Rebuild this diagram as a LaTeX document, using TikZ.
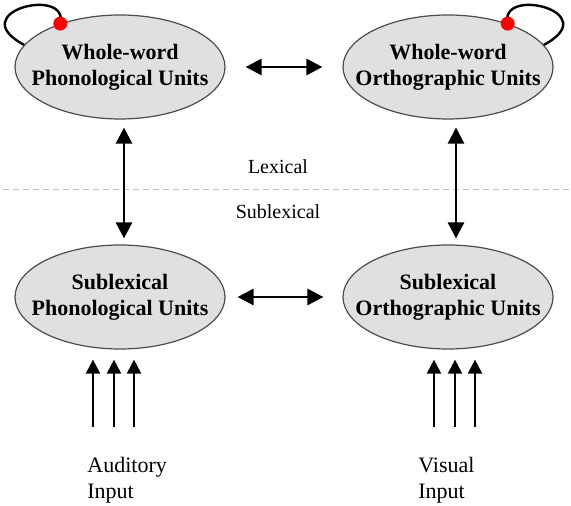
\documentclass[tikz,border=0pt]{standalone}
\usepackage{fontspec}
\setmainfont{Liberation Serif}
\usetikzlibrary{shapes.geometric, arrows.meta, positioning}

\begin{document}
\begin{tikzpicture}[x=0.5pt, y=-0.5pt,
  wordunit/.style={ellipse, draw=black!70, line width=0.6pt, fill=black!12,
    minimum width=105pt, minimum height=52pt, inner xsep=-10pt, inner ysep=0pt,
    align=center, font=\fontsize{11}{13}\selectfont\bfseries},
  link/.style={line width=1.4pt, {Triangle[length=8pt,width=8pt]}-{Triangle[length=8pt,width=8pt]}},
  feed/.style={line width=1pt, -{Triangle[length=7pt,width=7pt]}},
  selfloop/.style={line width=1.2pt},
  dot/.style={circle, fill=red, inner sep=0pt, minimum size=7pt},
  layer/.style={font=\fontsize{10}{12}\selectfont},
  inlabel/.style={align=left, anchor=north west, inner sep=0pt, font=\fontsize{11}{13}\selectfont}]

  \useasboundingbox (0,0) rectangle (571,506);

  % the four unit pools
  \node[wordunit] (wp) at (120,67) {Whole-word\\Phonological Units};
  \node[wordunit] (wo) at (448,67) {Whole-word\\Orthographic Units};
  \node[wordunit] (sp) at (120,297) {Sublexical\\Phonological Units};
  \node[wordunit] (so) at (448,297) {Sublexical\\Orthographic Units};

  % self loops on the lexical pools
  \draw[selfloop] (wp.144) .. controls +(9,-38) and +(-62,-33) .. (wp.167);
  \node[dot] (wpdot) at (wp.144) {};
  \draw[selfloop] (wo.36) .. controls +(-9,-38) and +(62,-33) .. (wo.13);
  \node[dot] (wodot) at (wo.36) {};

  % lexical / sublexical divide
  \draw[black!25, dash pattern=on 3pt off 2pt, line width=0.4pt] (3,189) -- (571,189);
  \node[layer] (lex) at (278,167) {Lexical};
  \node[layer] (sublex) at (278,212) {Sublexical};

  % connections
  \draw[link, shorten <=10pt, shorten >=10pt] (wp) -- (wo);
  \draw[link, shorten <=6pt, shorten >=9.5pt] (sp) -- (so);
  \draw[link, shorten <=4pt, shorten >=3pt] ([xshift=2pt]wp.south) -- ([xshift=2pt]sp.north);
  \draw[link, shorten <=4pt, shorten >=3pt] ([xshift=4pt]wo.south) -- ([xshift=4pt]so.north);

  % inputs
  \node[inlabel] (aud) at (87,457) {Auditory\\Input};
  \node[inlabel] (vis) at (418,457) {Visual\\Input};
  \coordinate (audfoot) at (114,427);
  \coordinate (visfoot) at (455,427);
  \foreach \d in {-21,0,20} {
    \draw[feed, shorten >=5pt] ([xshift=\d*0.5pt]audfoot) -- ([xshift=\d*0.5pt]audfoot |- sp.south);
    \draw[feed, shorten >=5pt] ([xshift=\d*0.5pt]visfoot) -- ([xshift=\d*0.5pt]visfoot |- so.south);
  }
\end{tikzpicture}
\end{document}
